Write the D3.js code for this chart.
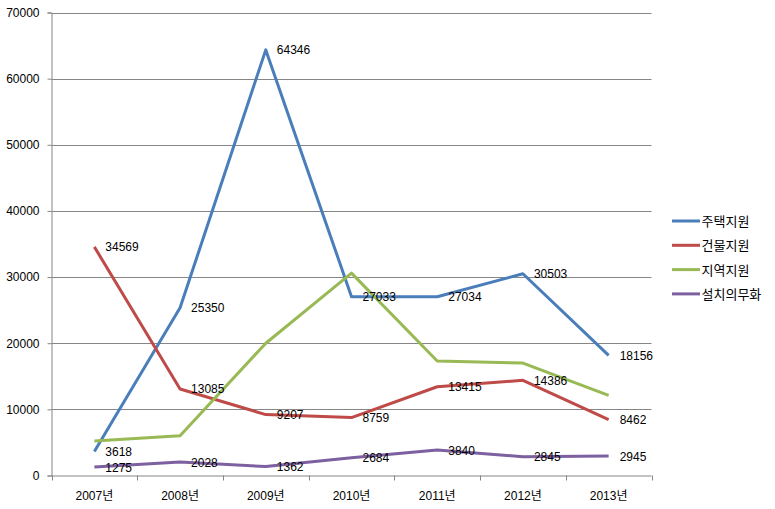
<!DOCTYPE html>
<html><head><meta charset="utf-8">
<script src="https://cdn.jsdelivr.net/npm/d3@7"></script>
<style>
body{margin:0;background:#fff;}
text{font-family:"Liberation Sans","Noto Sans CJK KR",sans-serif;font-size:12px;fill:#000;}
</style></head><body>
<svg id="c" width="775" height="509"></svg>
<script>
const categories = ["2007년","2008년","2009년","2010년","2011년","2012년","2013년"];
const seriesNames = ["주택지원","건물지원","지역지원","설치의무화"];
const housing = [3618, 25350, 64346, 27033, 27034, 30503, 18156];
const building = [34569, 13085, 9207, 8759, 13415, 14386, 8462];
const regional = [5200, 6000, 20000, 30600, 17300, 17000, 12100];
const mandatory = [1275, 2028, 1362, 2684, 3840, 2845, 2945];
const yTicks = [0,10000,20000,30000,40000,50000,60000,70000];
const colors = ["#4A7EBB","#BE4B48","#98B954","#7D60A0"];
const showLabels = [true,true,false,true];

const series = [housing, building, regional, mandatory];
const svg = d3.select("#c");
const L = 51.5, R = 651.5, T = 12.5, B = 475.5;
const x = d3.scaleBand().domain(categories).range([L, R]);
const y = d3.scaleLinear().domain([0,70000]).range([B, T]);

// gridlines
svg.append("g").selectAll("line").data(yTicks.filter(d=>d>0)).join("line")
  .attr("x1", L).attr("x2", R).attr("y1", d=>Math.round(y(d))+0.5).attr("y2", d=>Math.round(y(d))+0.5)
  .attr("stroke","#868686").attr("stroke-width",1);

// y axis
const ya = svg.append("g").attr("transform",`translate(${L},0)`)
  .call(d3.axisLeft(y).tickValues(yTicks).tickFormat(d3.format("d")).tickSize(4).tickPadding(8));
ya.select(".domain").attr("stroke","#868686");
ya.selectAll(".tick line").attr("stroke","#868686");
ya.selectAll(".tick text").attr("font-size","12px").attr("font-family",null);

// x axis
const xa = svg.append("g").attr("transform",`translate(0,${B})`)
  .call(d3.axisBottom(x).tickSize(0).tickPadding(16));
xa.select(".domain").attr("stroke","#868686").attr("d",`M${L},0.5H${R}`);
xa.selectAll(".tick text").attr("font-size","12.5px").attr("font-family",null);
svg.append("g").selectAll("line").data(d3.range(categories.length+1)).join("line")
  .attr("x1", i=>Math.round(L + i*x.step())+0.5).attr("x2", i=>Math.round(L + i*x.step())+0.5)
  .attr("y1", B).attr("y2", B+5).attr("stroke","#868686");

const cx = d => x(d) + x.bandwidth()/2;
const line = d3.line().x((d,i)=>cx(categories[i])).y(d=>y(d));

series.forEach((s,k)=>{
  svg.append("path").datum(s).attr("d", line).attr("fill","none")
    .attr("stroke", colors[k]).attr("stroke-width",3).attr("stroke-linejoin","round");
});
series.forEach((s,k)=>{
  if(!showLabels[k]) return;
  svg.append("g").selectAll("text").data(s).join("text")
    .attr("x",(d,i)=>cx(categories[i])+11).attr("y",d=>y(d)+4.5)
    .text(d=>d);
});

// legend
const lg = svg.append("g").selectAll("g").data(seriesNames).join("g")
  .attr("transform",(d,i)=>`translate(672,${221+i*24.3})`);
lg.append("line").attr("x1",0).attr("x2",28).attr("stroke",(d,i)=>colors[i]).attr("stroke-width",3);
lg.append("text").attr("x",29.5).attr("y",5).style("font-family","'Noto Sans CJK KR',sans-serif").style("font-size","13px").text(d=>d);
</script>
</body></html>
